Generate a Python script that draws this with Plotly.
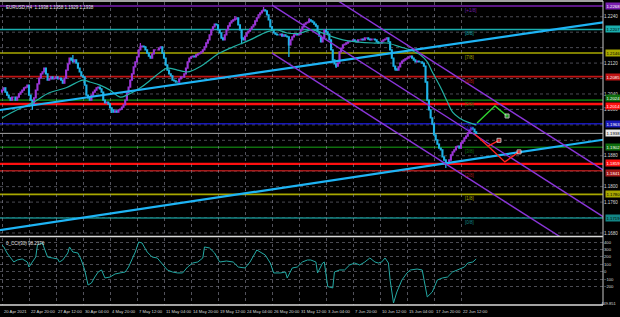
import plotly.graph_objects as go

# ---------------- data ----------------
closes = [
    1.2050, 1.2056, 1.2045, 1.2037, 1.2030, 1.2024, 1.2032, 1.2032,
    1.2024, 1.2032, 1.2040, 1.2045, 1.2050, 1.2056, 1.2058, 1.2063,
    1.2037, 1.2024, 1.2014, 1.2030, 1.2050, 1.2066, 1.2081, 1.2092,
    1.2097, 1.2107, 1.2092, 1.2076, 1.2079, 1.2084, 1.2079, 1.2081,
    1.2084, 1.2079, 1.2081, 1.2076, 1.2068, 1.2081, 1.2102, 1.2118,
    1.2133, 1.2128, 1.2123, 1.2128, 1.2120, 1.2107, 1.2097, 1.2087,
    1.2084, 1.2063, 1.2037, 1.2030, 1.2024, 1.2037, 1.2045, 1.2050,
    1.2056, 1.2058, 1.2053, 1.2045, 1.2024, 1.2017, 1.2019, 1.2014,
    1.2004, 1.1999, 1.1993, 1.1996, 1.1993, 1.1999, 1.2001, 1.2006,
    1.2012, 1.2024, 1.2043, 1.2058, 1.2076, 1.2092, 1.2110, 1.2123,
    1.2136, 1.2154, 1.2162, 1.2164, 1.2162, 1.2154, 1.2146, 1.2138,
    1.2133, 1.2144, 1.2154, 1.2154, 1.2154, 1.2159, 1.2162, 1.2146,
    1.2133, 1.2115, 1.2102, 1.2092, 1.2087, 1.2076, 1.2074, 1.2071,
    1.2071, 1.2079, 1.2084, 1.2084, 1.2092, 1.2107, 1.2123, 1.2133,
    1.2136, 1.2138, 1.2136, 1.2141, 1.2144, 1.2146, 1.2149, 1.2154,
    1.2162, 1.2172, 1.2180, 1.2193, 1.2206, 1.2214, 1.2221, 1.2219,
    1.2206, 1.2198, 1.2185, 1.2180, 1.2193, 1.2206, 1.2216, 1.2224,
    1.2229, 1.2232, 1.2234, 1.2237, 1.2219, 1.2206, 1.2185, 1.2180,
    1.2190, 1.2198, 1.2203, 1.2208, 1.2214, 1.2219, 1.2229, 1.2237,
    1.2245, 1.2250, 1.2255, 1.2258, 1.2255, 1.2245, 1.2232, 1.2214,
    1.2206, 1.2198, 1.2195, 1.2193, 1.2193, 1.2195, 1.2190, 1.2193,
    1.2190, 1.2188, 1.2167, 1.2180, 1.2188, 1.2193, 1.2195, 1.2193,
    1.2195, 1.2206, 1.2214, 1.2221, 1.2224, 1.2226, 1.2232, 1.2229,
    1.2226, 1.2221, 1.2216, 1.2201, 1.2190, 1.2175, 1.2185, 1.2206,
    1.2201, 1.2195, 1.2180, 1.2154, 1.2128, 1.2118, 1.2112, 1.2120,
    1.2149, 1.2159, 1.2167, 1.2169, 1.2172, 1.2175, 1.2177, 1.2177,
    1.2180, 1.2177, 1.2175, 1.2180, 1.2180, 1.2182, 1.2180, 1.2185,
    1.2185, 1.2182, 1.2180, 1.2182, 1.2182, 1.2180, 1.2175, 1.2172,
    1.2172, 1.2177, 1.2180, 1.2182, 1.2185, 1.2175, 1.2154, 1.2133,
    1.2112, 1.2105, 1.2102, 1.2110, 1.2120, 1.2125, 1.2128, 1.2131,
    1.2133, 1.2136, 1.2138, 1.2133, 1.2128, 1.2123, 1.2125, 1.2123,
    1.2123, 1.2120, 1.2112, 1.2071, 1.2024, 1.1999, 1.1978, 1.1962,
    1.1934, 1.1921, 1.1910, 1.1900, 1.1895, 1.1877, 1.1869, 1.1859,
    1.1861, 1.1869, 1.1882, 1.1890, 1.1895, 1.1903, 1.1905, 1.1900,
    1.1913, 1.1918, 1.1926, 1.1931, 1.1939, 1.1947, 1.1952, 1.1949,
    1.1942, 1.1938,
]
first_open = 1.2045
spike_high = {42: 1.2141, 82: 1.2172, 138: 1.2242, 155: 1.2265, 182: 1.2237}
spike_low = {18: 1.1999, 65: 1.1991, 142: 1.2169, 170: 1.2136, 198: 1.2107,
             233: 1.2100, 263: 1.1848}

ma_bars = [0, 9, 18, 28, 38, 48, 52, 58, 64, 70, 74, 82, 88, 94, 98, 104, 110,
           117, 129, 137, 147, 157, 163, 169, 177, 183, 188, 196, 202, 210, 220,
           228, 236, 242, 248, 252, 255, 260, 264, 267, 271, 276, 281]
ma_vals = [1.1978, 1.1999, 1.2017, 1.2043, 1.2056, 1.2076, 1.2071, 1.2063,
           1.2050, 1.2032, 1.2037, 1.2056, 1.2076, 1.2097, 1.2107, 1.2102,
           1.2097, 1.2110, 1.2146, 1.2162, 1.2180, 1.2201, 1.2206, 1.2198,
           1.2198, 1.2206, 1.2201, 1.2188, 1.2180, 1.2175, 1.2172, 1.2172,
           1.2162, 1.2154, 1.2141, 1.2123, 1.2097, 1.2056, 1.2019, 1.1993,
           1.1978, 1.1967, 1.1960]

cci_bars = [0, 1, 3, 7, 9, 12, 15, 16, 18, 20, 21, 24, 25, 27, 30, 33, 34, 36,
            39, 40, 42, 45, 47, 49, 51, 53, 55, 57, 59, 61, 64, 67, 70, 73, 75,
            77, 79, 81, 83, 86, 89, 92, 94, 95, 98, 101, 104, 107, 110, 113,
            116, 119, 120, 123, 126, 129, 133, 137, 140, 144, 147, 151, 154,
            156, 159, 161, 165, 168, 169, 172, 175, 178, 181, 183, 186, 187,
            190, 191, 193, 196, 197, 200, 203, 206, 209, 212, 215, 218, 221,
            223, 225, 227, 229, 230, 232, 234, 237, 240, 242, 246, 249, 251,
            252, 255, 258, 261, 264, 267, 271, 274, 276, 279, 281]
cci_vals = [360, 338, 252, 131, 158, 172, 131, 63, 131, 198, 360, 388, 320,
            198, 185, 172, 131, 158, 252, 334, 266, 252, 158, 23, -180, -153,
            -72, -4, 23, -85, -72, -31, -17, -4, 63, 158, 266, 401, 388, 266,
            198, 185, 131, 90, 23, -4, -17, -17, 63, 117, 131, 185, 334, 320,
            252, 131, 144, 131, 63, 50, 131, 293, 252, 225, 117, -17, -17, -4,
            -85, 50, 63, 131, 158, 158, 131, -17, 117, 131, -200, -220, -4,
            23, 23, 90, 117, 90, 131, 185, 131, 117, 131, 185, 117, -112,
            -423, -274, -112, -17, 23, 36, 23, -207, -341, -274, -112, -85,
            -72, -4, 36, 63, 117, 131, 172]

tick_bars = list(range(0, 273, 16))
tick_labels = ["20 Apr 2021", "22 Apr 20:00", "27 Apr 12:00", "30 Apr 04:00",
               "4 May 20:00", "7 May 12:00", "11 May 04:00", "14 May 20:00",
               "19 May 12:00", "24 May 04:00", "26 May 20:00", "31 May 12:00",
               "3 Jun 04:00", "7 Jun 20:00", "10 Jun 12:00", "15 Jun 04:00",
               "17 Jun 20:00", "22 Jun 12:00"]

price_ticks = [1.1680, 1.1760, 1.1800, 1.1880, 1.2000, 1.2040,
               1.2120, 1.2240]
grid_prices = [1.1680, 1.1720, 1.1760, 1.1800, 1.1840, 1.1880, 1.1920, 1.1960,
               1.2000, 1.2040, 1.2080, 1.2120, 1.2160, 1.2200, 1.2240, 1.2280]
cci_ticks = [400, 300, 200, 100, 0, -100, -200]

level_names = ["[+1/8]", "[8/8]", "[7/8]", "[6/8]", "[5/8]", "[4/8]", "[3/8]",
               "[2/8]", "[1/8]", "[0/8]"]
level_prices = [1.2268, 1.2207, 1.2146, 1.2085, 1.2024, 1.1963, 1.1902,
                1.1841, 1.1780, 1.1719]
level_colors = ["#7A1FB0", "#1AAFAF", "#A8A800", "#C01414", "#0E6E0E",
                "#1818B8", "#0E6E0E", "#A41A1A", "#A8A800", "#138585"]
level_text_colors = ["white", "black", "black", "white", "white", "white",
                     "white", "white", "black", "black"]
sr_prices = [1.2014, 1.1859]

trend_blue = [((-2, 1.1998), (357, 1.2226)), ((-2, 1.1687), (357, 1.1922))]
channel = [((197, 1.2287), (357, 1.1841)),
           ((160, 1.2270), (357, 1.1720)),
           ((160, 1.2146), (357, 1.1597))]
green_path = ([281.5, 292.1, 299.3], [1.1965, 1.2009, 1.1983])
red_path1 = ([280.3, 288.0, 294.5], [1.1936, 1.1905, 1.1920])
red_path2 = ([288.0, 298.0, 306.4], [1.1905, 1.1864, 1.1890])

header = "EURUSD,H4  1.1938 1.1958 1.1929 1.1938"
cci_header = "0_CCI(30) 98.2376"
cci_bottom_label = "-449.851"

# ---------------- figure ----------------
W, H = 620, 317
XD = 603 / W
main_dom = [1 - 236 / H, 1 - 2 / H]
cci_dom = [1 - 305 / H, 1 - 238 / H]
xr = [-1.185, 356.15]
yr = [1.16722, 1.22782]
cr = [-449.851, 455.0]

n = len(closes)
bars = list(range(n))
opens = [first_open] + closes[:-1]
highs = [max(o, c) for o, c in zip(opens, closes)]
lows = [min(o, c) for o, c in zip(opens, closes)]
for k, v in spike_high.items():
    highs[k] = max(highs[k], v)
for k, v in spike_low.items():
    lows[k] = min(lows[k], v)

fig = go.Figure()
FONT = "Liberation Sans"

shapes = []
# price grid (dotted)
for p in grid_prices:
    shapes.append(dict(type="line", xref="x domain", yref="y", x0=0, x1=1,
                       y0=p, y1=p, line=dict(color="rgba(150,150,165,0.5)",
                                             width=1, dash="dot"), layer="below"))
# level lines
for p, col in zip(level_prices, level_colors):
    shapes.append(dict(type="line", xref="x domain", yref="y", x0=0, x1=1,
                       y0=p, y1=p, line=dict(color=col, width=1.6), layer="below"))
for p in sr_prices:
    shapes.append(dict(type="line", xref="x domain", yref="y", x0=0, x1=1,
                       y0=p, y1=p, line=dict(color="#FF1010", width=2.4), layer="below"))
shapes.append(dict(type="line", xref="x domain", yref="y", x0=0, x1=1,
                   y0=closes[-1], y1=closes[-1],
                   line=dict(color="#A8A8A8", width=1), layer="below"))
# frame lines
for yy in [1 - 1 / H, 1 - 236.5 / H, 1 - 305 / H]:
    shapes.append(dict(type="line", xref="paper", yref="paper", x0=0, x1=XD,
                       y0=yy, y1=yy, line=dict(color="#D8D8D8", width=1.5)))
shapes.append(dict(type="line", xref="paper", yref="paper", x0=XD, x1=XD,
                   y0=1 - 305 / H, y1=1 - 1 / H, line=dict(color="#C8C8C8", width=1)))

fig.add_trace(go.Candlestick(
    x=bars, open=opens, high=highs, low=lows, close=closes,
    increasing=dict(line=dict(color="#9B35D6", width=1.3), fillcolor="#9B35D6"),
    decreasing=dict(line=dict(color="#1FB2E6", width=1.3), fillcolor="#1FB2E6"),
    whiskerwidth=0, xaxis="x", yaxis="y", hoverinfo="skip"))

fig.add_trace(go.Scatter(x=ma_bars, y=ma_vals, mode="lines",
                         line=dict(color="#22B0A4", width=1.2, shape="spline"),
                         xaxis="x", yaxis="y", hoverinfo="skip"))

for (a, b) in trend_blue:
    fig.add_trace(go.Scatter(x=[a[0], b[0]], y=[a[1], b[1]], mode="lines",
                             line=dict(color="#1EB4F5", width=2.2),
                             xaxis="x", yaxis="y", hoverinfo="skip"))
for (a, b) in channel:
    fig.add_trace(go.Scatter(x=[a[0], b[0]], y=[a[1], b[1]], mode="lines",
                             line=dict(color="#8A35D8", width=1.4),
                             xaxis="x", yaxis="y", hoverinfo="skip"))

for path, col in [(green_path, "#2FD22F"), (red_path1, "#FF2222"), (red_path2, "#FF2222")]:
    fig.add_trace(go.Scatter(x=path[0], y=path[1], mode="lines+markers",
                             line=dict(color=col, width=1.4),
                             marker=dict(size=[0, 0, 4], color=col, symbol="square"),
                             xaxis="x", yaxis="y", hoverinfo="skip"))

fig.add_trace(go.Scatter(x=cci_bars, y=cci_vals, mode="lines",
                         line=dict(color="#23A9A4", width=1),
                         xaxis="x2", yaxis="y2", hoverinfo="skip"))

xgrid = dict(showgrid=True, gridcolor="rgba(150,150,165,0.55)", griddash="dot",
             gridwidth=1, zeroline=False, showline=False, ticks="")
ynogrid = dict(showgrid=False, zeroline=False, showline=False, ticks="")

annotations = []
annotations.append(dict(xref="paper", yref="paper", x=0.006, y=1 - 3 / H,
                        xanchor="left", yanchor="top", text=header, showarrow=False,
                        font=dict(family=FONT, size=4.5, color="#E8E8E8")))
annotations.append(dict(xref="paper", yref="paper", x=0.006, y=1 - 239 / H,
                        xanchor="left", yanchor="top", text=cci_header, showarrow=False,
                        font=dict(family=FONT, size=4.5, color="#E0E0E0")))
for b, t in zip(tick_bars, tick_labels):
    annotations.append(dict(xref="x2", yref="paper", x=b, y=1 - 311 / H,
                            xanchor="left", yanchor="middle", text=t, showarrow=False,
                            font=dict(family=FONT, size=4.2, color="#D8D8D8")))
for name, p, col in zip(level_names, level_prices, level_colors):
    annotations.append(dict(xref="x", yref="y", x=273, y=p, xanchor="left",
                            yanchor="top", text=name, showarrow=False,
                            font=dict(family=FONT, size=4.5, color=col)))
box_prices = level_prices + sr_prices + [closes[-1]]
box_colors = level_colors + ["#FF1010", "#FF1010", "#E8E8E8"]
box_text = level_text_colors + ["white", "white", "black"]
box_shift = [0, 0, 0, 0, 2, 0, 0, -2, 0, 0, -2, 1, 0]
for p, col, tc, ys in zip(box_prices, box_colors, box_text, box_shift):
    annotations.append(dict(xref="paper", yref="y", x=XD + 1.5 / W, y=p, yshift=ys,
                            xanchor="left", yanchor="middle", text=f"{p:.4f}",
                            showarrow=False, bgcolor=col, borderpad=0.5,
                            font=dict(family=FONT, size=4.3, color=tc)))
annotations.append(dict(xref="paper", yref="paper", x=0.999, y=1 - 303 / H,
                        xanchor="right", yanchor="middle", text=cci_bottom_label,
                        showarrow=False, font=dict(family=FONT, size=4.0, color="#D8D8D8")))

fig.update_layout(
    width=W, height=H, margin=dict(l=0, r=0, t=0, b=0),
    paper_bgcolor="black", plot_bgcolor="black", showlegend=False,
    shapes=shapes, annotations=annotations,
    xaxis=dict(domain=[0, XD], range=xr, anchor="y", tickvals=tick_bars,
               showticklabels=False, rangeslider=dict(visible=False), **xgrid),
    yaxis=dict(domain=main_dom, range=yr, anchor="x", side="right",
               tickvals=price_ticks, tickformat=".4f",
               tickfont=dict(family=FONT, size=4.5, color="#D8D8D8"), **ynogrid),
    xaxis2=dict(domain=[0, XD], range=xr, anchor="y2", tickvals=tick_bars,
                showticklabels=False, **xgrid),
    yaxis2=dict(domain=cci_dom, range=cr, anchor="x2", side="right",
                tickvals=cci_ticks, showgrid=True,
                gridcolor="rgba(150,150,165,0.5)", griddash="dot",
                zeroline=False, showline=False, ticks="",
                tickfont=dict(family=FONT, size=4.2, color="#D8D8D8")),
)

fig.write_html("out.html", config={"displayModeBar": False})
